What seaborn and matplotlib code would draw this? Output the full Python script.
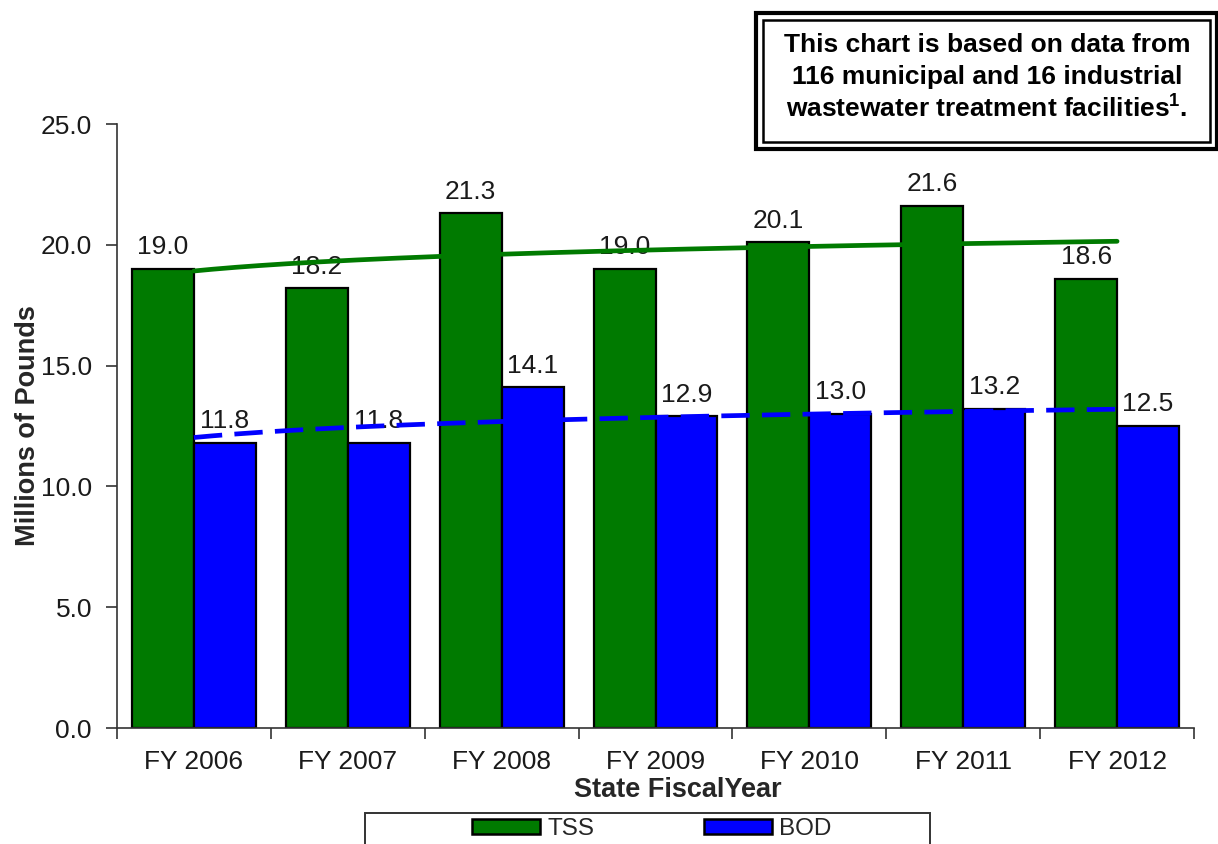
import numpy as np
import pandas as pd
import matplotlib
matplotlib.use("Agg")
import matplotlib.pyplot as plt
import seaborn as sns
from matplotlib.patches import Rectangle, Patch
from matplotlib.ticker import FixedLocator, NullFormatter

years = ["FY 2006", "FY 2007", "FY 2008", "FY 2009", "FY 2010", "FY 2011", "FY 2012"]
tss = [19.0, 18.2, 21.3, 19.0, 20.1, 21.6, 18.6]
bod = [11.8, 11.8, 14.1, 12.9, 13.0, 13.2, 12.5]
series = ["TSS", "BOD"]
colors = {"TSS": "#007A00", "BOD": "#0000FF"}
yticks = [0.0, 5.0, 10.0, 15.0, 20.0, 25.0]
note_lines = ["This chart is based on data from",
              "116 municipal and 16 industrial",
              r"wastewater treatment facilities$^{\mathbf{1}}$."]

sns.set_style("white")
plt.rcParams["font.family"] = ["Liberation Sans", "DejaVu Sans"]
plt.rcParams["mathtext.fontset"] = "custom"
plt.rcParams["mathtext.bf"] = "Liberation Sans:bold"
plt.rcParams["mathtext.rm"] = "Liberation Sans"

df = pd.DataFrame({
    "year": years * 2,
    "value": tss + bod,
    "series": ["TSS"] * len(years) + ["BOD"] * len(years),
})

W, H = 1218, 844
fig = plt.figure(figsize=(W / 100, H / 100), dpi=100)
ax = fig.add_axes([117 / W, 1 - 728 / H, (1194 - 117) / W, (728 - 124) / H])

sns.barplot(data=df, x="year", y="value", hue="series", order=years,
            hue_order=series, palette=colors, width=0.805, gap=0,
            edgecolor="black", linewidth=1.6, saturation=1, ax=ax,
            legend=False, errorbar=None)

# value labels
for cont in ax.containers:
    ax.bar_label(cont, labels=[f"{v:.1f}" for v in cont.datavalues],
                 padding=7, fontsize=19, color="#1a1a1a")

# logarithmic trend lines (Excel-style), fit from the data
x = np.arange(1, len(years) + 1)
xs = np.linspace(1, len(years), 200)
for vals, col, ls in [(tss, colors["TSS"], "-"), (bod, colors["BOD"], (0, (6, 2.6)))]:
    b, a = np.polyfit(np.log(x), np.array(vals), 1)
    ax.plot(xs - 1, a + b * np.log(xs), color=col, lw=3.4, linestyle=ls,
            solid_capstyle="round", zorder=5)

ax.set_ylim(0, 25)
ax.set_xlim(-0.5, len(years) - 0.5)
ax.set_yticks(yticks)
ax.set_yticklabels([f"{v:.1f}" for v in yticks], fontsize=19, color="#1a1a1a")

# category boundary ticks, labels at centers
ax.xaxis.set_major_locator(FixedLocator(np.arange(-0.5, len(years) + 0.5, 1.0)))
ax.xaxis.set_major_formatter(NullFormatter())
ax.xaxis.set_minor_locator(FixedLocator(np.arange(len(years))))
ax.set_xticklabels(years, minor=True, fontsize=19, color="#1a1a1a")
ax.tick_params(axis="x", which="major", length=8, width=1.2, direction="out",
               bottom=True, color="#333333")
ax.tick_params(axis="x", which="minor", length=0, pad=16, bottom=True)
ax.tick_params(axis="y", length=8, width=1.2, direction="out", left=True,
               pad=10, color="#333333")

for s in ["top", "right"]:
    ax.spines[s].set_visible(False)
for s in ["left", "bottom"]:
    ax.spines[s].set_color("#333333")
    ax.spines[s].set_linewidth(1.2)

ax.set_xlabel("State FiscalYear", fontsize=19.5, fontweight="bold")
ax.xaxis.set_label_coords((678 - 117) / (1194 - 117), (728 - 777) / (728 - 124))
ax.set_ylabel("Millions of Pounds", fontsize=19.5, fontweight="bold", labelpad=0)

# note box with double border
fig.patches.append(Rectangle((756 / W, 1 - 149 / H), (1217 - 756) / W, (149 - 13) / H,
                             transform=fig.transFigure, fill=False,
                             edgecolor="black", lw=3))
fig.patches.append(Rectangle((763 / W, 1 - 142 / H), (1210 - 763) / W, (142 - 20) / H,
                             transform=fig.transFigure, fill=False,
                             edgecolor="black", lw=1.8))
for line, yc in zip(note_lines, [45, 77, 108]):
    fig.text(987 / W, 1 - yc / H, line, ha="center", va="center",
             fontsize=19, fontweight="bold", color="black")

# legend box (clipped at bottom of figure)
fig.patches.append(Rectangle((365 / W, -0.05), (930 - 365) / W, 0.05 + (844 - 813) / H,
                             transform=fig.transFigure, fill=False,
                             edgecolor="#333333", lw=1.4))
handles = [Patch(facecolor=colors[s], edgecolor="black", linewidth=1.8, label=s)
           for s in series]
fig.legend(handles=handles, loc="center", bbox_to_anchor=(652 / W, 1 - 829 / H),
           ncol=2, frameon=False, fontsize=17.5, handlelength=2.8, handleheight=0.62,
           handletextpad=0.3, columnspacing=4.5, borderpad=0)

fig.savefig("out.png", dpi=100)
